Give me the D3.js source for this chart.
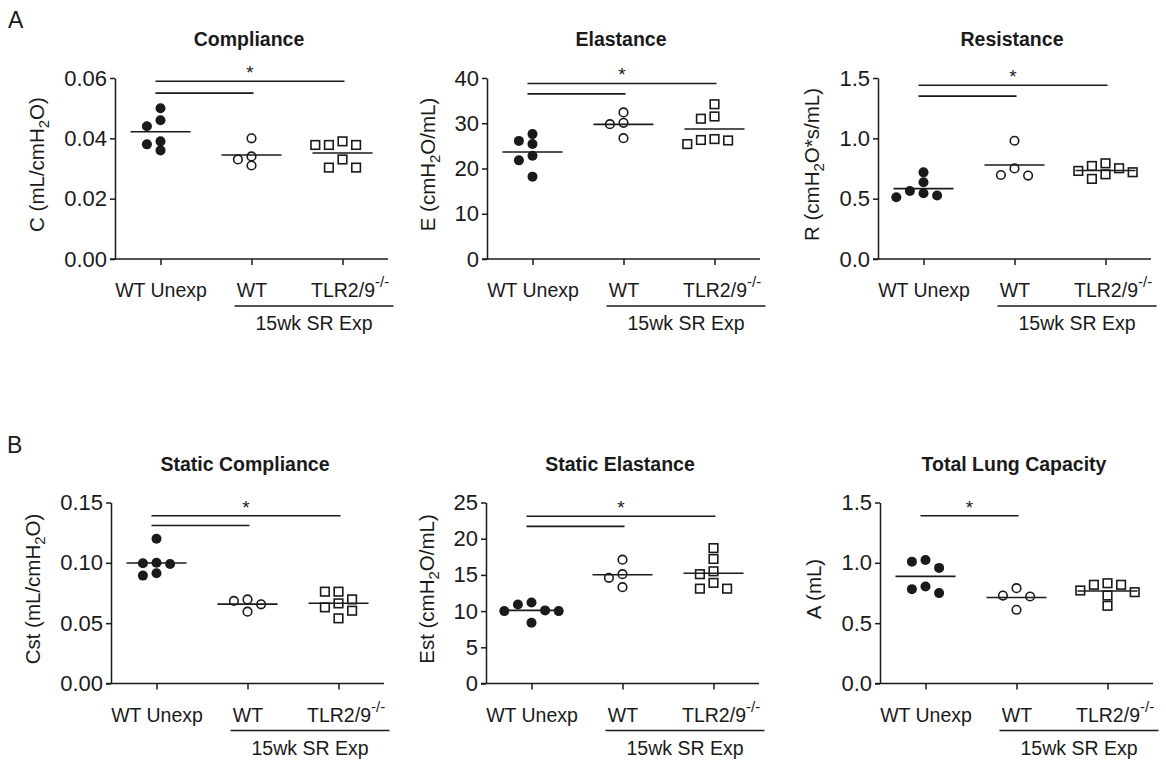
<!DOCTYPE html>
<html>
<head>
<meta charset="utf-8">
<script src="https://cdn.jsdelivr.net/npm/d3@7"></script>
<style>
  body { margin: 0; background: #fff; }
  text { font-family: Arial, "Liberation Sans", Helvetica, sans-serif; fill: #1a1a1a; }
</style>
</head>
<body>
<svg id="chart" width="1166" height="761"></svg>
<script>
const groups = ["WT Unexp", "WT", "TLR2/9"];

// A: Compliance (mL/cmH2O)
const complianceUnexp = [0.050, 0.046, 0.044, 0.039, 0.038, 0.036];
const complianceWT = [0.040, 0.034, 0.033, 0.031];
const complianceTLR = [0.0378, 0.0390, 0.0378, 0.0378, 0.0330, 0.0303, 0.0303];
const complianceTicks = [0, 0.02, 0.04, 0.06];
const complianceBars = [{ from: 0, to: 2, y: 0.0589 }, { from: 0, to: 1, y: 0.0550 }];

// A: Elastance (cmH2O/mL)
const elastanceUnexp = [27.6, 25.4, 26.1, 22.8, 21.8, 18.2];
const elastanceWT = [32.4, 30.1, 29.8, 26.7];
const elastanceTLR = [34.2, 31.5, 31.0, 26.5, 25.4, 26.3, 26.2];
const elastanceTicks = [0, 10, 20, 30, 40];
const elastanceBars = [{ from: 0, to: 2, y: 38.8 }, { from: 0, to: 1, y: 36.5 }];

// A: Resistance (cmH2O*s/mL)
const resistanceUnexp = [0.718, 0.636, 0.545, 0.564, 0.512, 0.526];
const resistanceWT = [0.980, 0.751, 0.691, 0.696];
const resistanceTLR = [0.719, 0.752, 0.793, 0.664, 0.730, 0.702, 0.771];
const resistanceTicks = [0, 0.5, 1.0, 1.5];
const resistanceBars = [{ from: 0, to: 2, y: 1.44 }, { from: 0, to: 1, y: 1.35 }];

// B: Static compliance (mL/cmH2O)
const staticCUnexp = [0.120, 0.099, 0.100, 0.0996, 0.0894, 0.0913];
const staticCWT = [0.0684, 0.0697, 0.0656, 0.0595];
const staticCTLR = [0.0761, 0.0761, 0.0697, 0.0631, 0.0664, 0.0603, 0.0540];
const staticCTicks = [0, 0.05, 0.10, 0.15];
const staticCBars = [{ from: 0, to: 2, y: 0.139 }, { from: 0, to: 1, y: 0.131 }];

// B: Static elastance (cmH2O/mL)
const staticEUnexp = [11.2, 10.9, 10.0, 10.1, 10.0, 8.4];
const staticEWT = [17.1, 15.1, 14.6, 13.3];
const staticETLR = [18.7, 17.2, 15.5, 15.1, 13.9, 13.1, 13.1];
const staticETicks = [0, 5, 10, 15, 20, 25];
const staticEBars = [{ from: 0, to: 2, y: 23.1 }, { from: 0, to: 1, y: 21.7 }];

// B: Total lung capacity (mL)
const tlcUnexp = [1.010, 1.024, 0.958, 0.804, 0.782, 0.749];
const tlcWT = [0.790, 0.729, 0.721, 0.611];
const tlcTLR = [0.771, 0.818, 0.757, 0.831, 0.818, 0.729, 0.644];
const tlcTicks = [0, 0.5, 1.0, 1.5];
const tlcBars = [{ from: 0, to: 1, y: 1.39 }];

const panels = [
  { title: "Compliance", label: ["C (mL/cmH", "2", "O)"], data: [complianceUnexp, complianceWT, complianceTLR],
    ticks: complianceTicks, fmt: ".2f", bars: complianceBars, left: 115, row: 0 },
  { title: "Elastance", label: ["E (cmH", "2", "O/mL)"], data: [elastanceUnexp, elastanceWT, elastanceTLR],
    ticks: elastanceTicks, fmt: "d", bars: elastanceBars, left: 487, row: 0 },
  { title: "Resistance", label: ["R (cmH", "2", "O*s/mL)"], data: [resistanceUnexp, resistanceWT, resistanceTLR],
    ticks: resistanceTicks, fmt: ".1f", bars: resistanceBars, left: 878, row: 0 },
  { title: "Static Compliance", label: ["Cst (mL/cmH", "2", "O)"], data: [staticCUnexp, staticCWT, staticCTLR],
    ticks: staticCTicks, fmt: ".2f", bars: staticCBars, left: 111, row: 1 },
  { title: "Static Elastance", label: ["Est (cmH", "2", "O/mL)"], data: [staticEUnexp, staticEWT, staticETLR],
    ticks: staticETicks, fmt: "d", bars: staticEBars, left: 486, row: 1 },
  { title: "Total Lung Capacity", label: ["A (mL)"], data: [tlcUnexp, tlcWT, tlcTLR],
    ticks: tlcTicks, fmt: ".1f", bars: tlcBars, left: 880, row: 1 }
];

const svg = d3.select("#chart");
const W = 273, H = 181;
const rowTop = [78, 502.5];
const ink = "#1a1a1a";
const step = 6.8;

// simple column scatter: push points sideways when they overlap vertically
function swarm(values, y) {
  const order = values.map((v, i) => i).sort((a, b) => values[b] - values[a]);
  const cand = [0, -2, 2, -1, 1, -3, 3, -4, 4];
  const placed = [];
  const off = new Array(values.length).fill(0);
  order.forEach(i => {
    const py = y(values[i]);
    const k = cand.find(c => placed.every(p => Math.abs(p.y - py) >= 9 || Math.abs(p.k - c) >= 2));
    placed.push({ y: py, k: k });
    off[i] = k * step;
  });
  return off;
}

svg.append("text").attr("x", 8).attr("y", 28).attr("font-size", 23).text("A");
svg.append("text").attr("x", 7).attr("y", 453).attr("font-size", 23).text("B");

panels.forEach(p => {
  const g = svg.append("g").attr("transform", `translate(${p.left},${rowTop[p.row]})`);
  const x = d3.scalePoint().domain(groups).range([0, W]).padding(0.5);
  const y = d3.scaleLinear().domain([0, d3.max(p.ticks)]).range([H, 0]);

  // y axis
  const ya = g.append("g")
    .call(d3.axisLeft(y).tickValues(p.ticks).tickFormat(d3.format(p.fmt)).tickSize(5).tickSizeOuter(0).tickPadding(3));
  ya.selectAll("path, line").attr("stroke", ink).attr("stroke-width", 1.5);
  ya.selectAll("text").attr("font-size", 22).attr("fill", ink);

  // x axis
  const xa = g.append("g").attr("transform", `translate(0,${H})`)
    .call(d3.axisBottom(x).tickSize(6).tickSizeOuter(0));
  xa.select(".domain").remove();
  xa.append("line").attr("x1", -5).attr("x2", W).attr("stroke", ink).attr("stroke-width", 1.5);
  xa.selectAll("line").attr("stroke", ink).attr("stroke-width", 1.5);
  xa.selectAll("text").attr("font-size", 19.5).attr("fill", ink).attr("y", 38).attr("dy", null);
  xa.selectAll("text").filter(d => d === "TLR2/9").each(function() {
    const t = d3.select(this);
    const mainLen = this.getComputedTextLength();
    t.append("tspan").attr("font-size", 15).attr("dy", -10).text("-/-");
    const total = this.getComputedTextLength();
    t.attr("x", (total - mainLen) / 2);
  });

  // group bracket under exposed mice
  const gx1 = x("WT") - 17, gx2 = x("TLR2/9") + 51;
  g.append("line").attr("x1", gx1).attr("x2", gx2).attr("y1", H + 47).attr("y2", H + 47)
    .attr("stroke", ink).attr("stroke-width", 1.5);
  g.append("text").attr("x", (gx1 + gx2) / 2).attr("y", H + 71).attr("text-anchor", "middle")
    .attr("font-size", 19.5).text("15wk SR Exp");

  // title
  g.append("text").attr("x", (W - 5) / 2).attr("y", -32).attr("text-anchor", "middle")
    .attr("font-size", 19.5).attr("font-weight", "bold").text(p.title);

  // y label
  const tickLeft = ya.node().getBBox().x;
  const lab = g.append("text")
    .attr("transform", `translate(${tickLeft - 20},${H / 2 - 4}) rotate(-90)`)
    .attr("text-anchor", "middle").attr("font-size", 20.5);
  lab.append("tspan").text(p.label[0]);
  if (p.label.length > 1) {
    lab.append("tspan").attr("font-size", 15).attr("dy", 5).text(p.label[1]);
    lab.append("tspan").attr("dy", -5).text(p.label[2]);
  }

  // significance bars
  p.bars.forEach((b, i) => {
    g.append("line").attr("x1", x(groups[b.from]) - 5).attr("x2", x(groups[b.to]) + 2)
      .attr("y1", y(b.y)).attr("y2", y(b.y)).attr("stroke", ink).attr("stroke-width", 1.6);
    if (i === 0) {
      g.append("text").attr("x", (x(groups[b.from]) - 5 + x(groups[b.to]) + 2) / 2).attr("y", y(b.y) - 2)
        .attr("text-anchor", "middle").attr("font-size", 19).text("*");
    }
  });

  // points and means
  p.data.forEach((vals, gi) => {
    const cx = x(groups[gi]);
    const off = swarm(vals, y);
    const m = d3.mean(vals);
    g.append("line").attr("x1", cx - 30).attr("x2", cx + 30).attr("y1", y(m)).attr("y2", y(m))
      .attr("stroke", ink).attr("stroke-width", 1.6);
    const pts = g.append("g");
    if (gi === 0) {
      pts.selectAll("circle").data(vals).join("circle")
        .attr("cx", (d, i) => cx + off[i]).attr("cy", d => y(d)).attr("r", 5).attr("fill", ink);
    } else if (gi === 1) {
      pts.selectAll("circle").data(vals).join("circle")
        .attr("cx", (d, i) => cx + off[i]).attr("cy", d => y(d)).attr("r", 4.3)
        .attr("fill", "none").attr("stroke", ink).attr("stroke-width", 1.6);
    } else {
      pts.selectAll("rect").data(vals).join("rect")
        .attr("x", (d, i) => cx + off[i] - 4.3).attr("y", d => y(d) - 4.3).attr("width", 8.6).attr("height", 8.6)
        .attr("fill", "none").attr("stroke", ink).attr("stroke-width", 1.6);
    }
  });
});
</script>
</body>
</html>
